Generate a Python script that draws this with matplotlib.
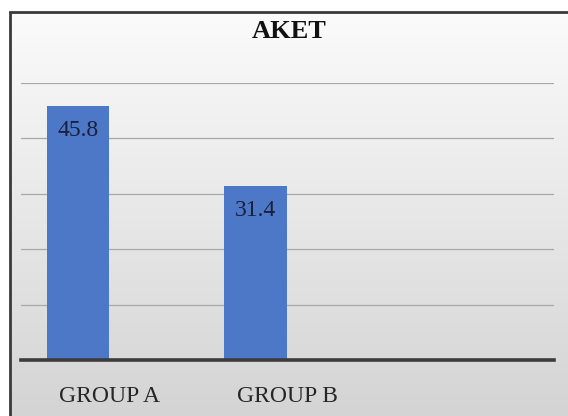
import matplotlib.pyplot as plt
import numpy as np
from matplotlib.patches import Rectangle

# data
categories = ['GROUP A', 'GROUP B', '']
values = [45.8, 31.4, np.nan]
title = 'AKET'

W, H = 568, 416
fig = plt.figure(figsize=(W / 100, H / 100), dpi=100)
fig.patch.set_facecolor('white')

# grey gradient background inside the frame
bg = fig.add_axes([10 / W, 0, 1 - 10 / W, (H - 12) / H], zorder=0)
grad = np.linspace(0, 1, 256).reshape(-1, 1)
bg.imshow(grad, aspect='auto', cmap=plt.cm.colors.LinearSegmentedColormap.from_list(
    'g', ['#fbfbfb', '#d4d4d4']), extent=[0, 1, 0, 1], origin='upper')
bg.set_axis_off()
fig.add_artist(Rectangle((10 / W, -0.05), 1.2, (H - 12) / H + 0.05,
                         transform=fig.transFigure, fill=False,
                         edgecolor='#3a3a3a', linewidth=2.0, zorder=5))

ax = fig.add_axes([21 / W, 1 - 360 / H, (554 - 21) / W, (360 - 82.5) / H], zorder=2)
ax.patch.set_alpha(0)

x = np.arange(len(categories))
bars = ax.bar(x - 0.18, values, width=0.35, color='#4d78c8', zorder=3)

for xi, v in zip(x, values):
    if np.isnan(v):
        continue
    ax.text(xi - 0.18, v - 2.6, '%.1f' % v, ha='center', va='top',
            fontsize=17, family='Liberation Serif', color='#1a1f3a', zorder=4)

ax.set_xlim(-0.5, 2.5)
ax.set_ylim(0, 50)
ax.set_yticks([10, 20, 30, 40, 50])
ax.grid(axis='y', color='#a8a8a8', linewidth=0.9, zorder=1)
ax.axhline(0, color='#3c3c3c', linewidth=2.6, zorder=4, clip_on=False)
ax.set_xticks(x)
ax.set_xticklabels(categories, family='Liberation Serif', fontsize=17, color='#262626')
ax.tick_params(axis='x', length=0, pad=19)
ax.tick_params(axis='y', length=0, labelleft=False)
for s in ax.spines.values():
    s.set_visible(False)

fig.text(289 / W, 1 - 32 / H, title, ha='center', va='center', fontsize=19,
         fontweight='bold', family='Liberation Serif', color='#111111', zorder=6)

fig.savefig('out.png', dpi=100)
